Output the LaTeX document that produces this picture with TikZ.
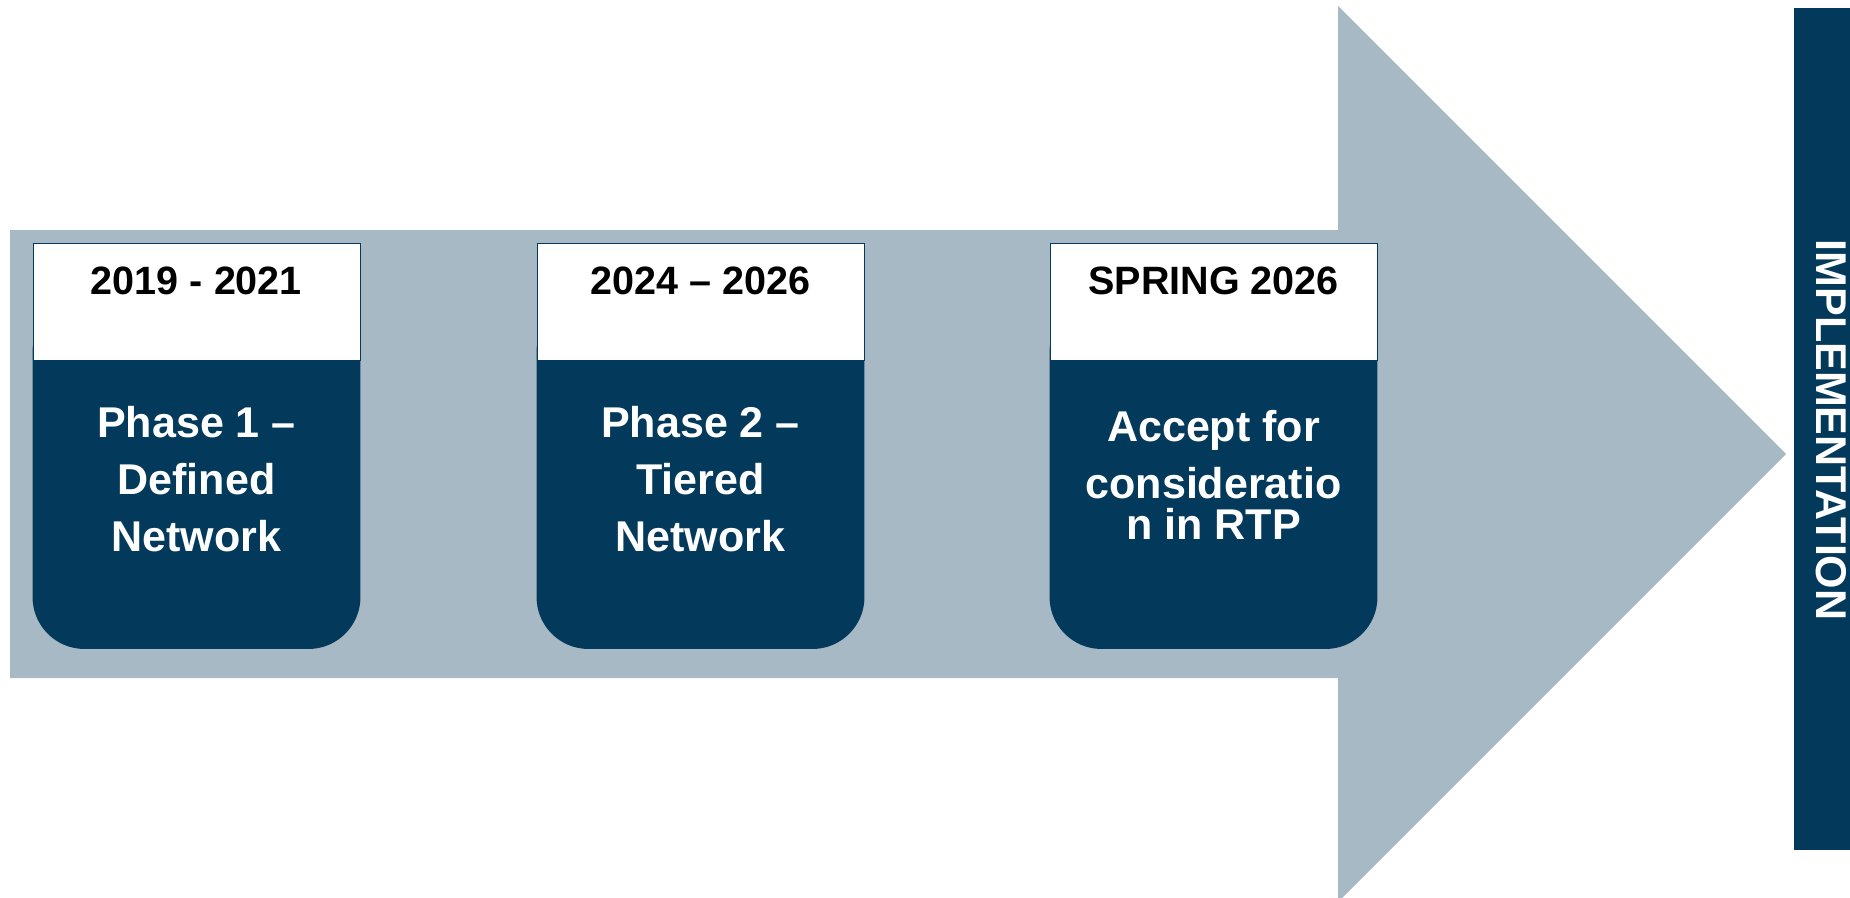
\documentclass[tikz,border=0pt]{standalone}
\usepackage{fontspec}
\setmainfont{Liberation Sans}
\usetikzlibrary{positioning}
\definecolor{bandgray}{RGB}{166,185,196}
\definecolor{navyblue}{RGB}{3,58,92}

\begin{document}
\begin{tikzpicture}[x=0.02cm,y=-0.02cm,
    phasebox/.style={rectangle,fill=navyblue,rounded corners=1.04cm,minimum width=6.56cm,minimum height=6.98cm,inner sep=0pt},
    datebox/.style={rectangle,draw=navyblue,fill=white,minimum width=6.54cm,minimum height=2.34cm,inner sep=0pt,
      text height=0.55cm,text depth=0.85cm,font=\bfseries\fontsize{22.5}{26}\selectfont},
    lbl/.style={text=white,align=center,inner sep=0pt,font=\bfseries\fontsize{24.5}{32.4}\selectfont}]
  \useasboundingbox (0,0) rectangle (1850,897);
  % big arrow behind everything
  \fill[bandgray] (10,230) -- (1338,230) -- (1338,6) -- (1786,454) -- (1338,902) -- (1338,678) -- (10,678) -- cycle;
  % the three stages
  \node[phasebox] (ph1) at (196.5,474.5) {};
  \node[phasebox] (ph2) at (700.5,474.5) {};
  \node[phasebox] (ph3) at (1213.5,474.5) {};
  \node[datebox,above=-1.22cm of ph1] (d1) {2019 - 2021};
  \node[datebox,above=-1.22cm of ph2] (d2) {2024 -- 2026};
  \node[datebox,above=-1.22cm of ph3] (d3) {SPRING 2026};
  \node[lbl] (t1) at (196.5,479) {Phase 1 --\\Defined\\Network};
  \node[lbl] (t2) at (700.5,479) {Phase 2 --\\Tiered\\Network};
  \node[lbl] (t3) at (1213.5,475) {Accept for\\consideratio\\[-0.32cm]n in RTP};
  % side bar
  \fill[navyblue] (1794,8) rectangle (1850,850);
  \node[text=white,rotate=-90,inner sep=0pt,font=\bfseries\fontsize{24.5}{28}\selectfont] (impl) at (1831,430) {IMPLEMENTATION};
\end{tikzpicture}
\end{document}
